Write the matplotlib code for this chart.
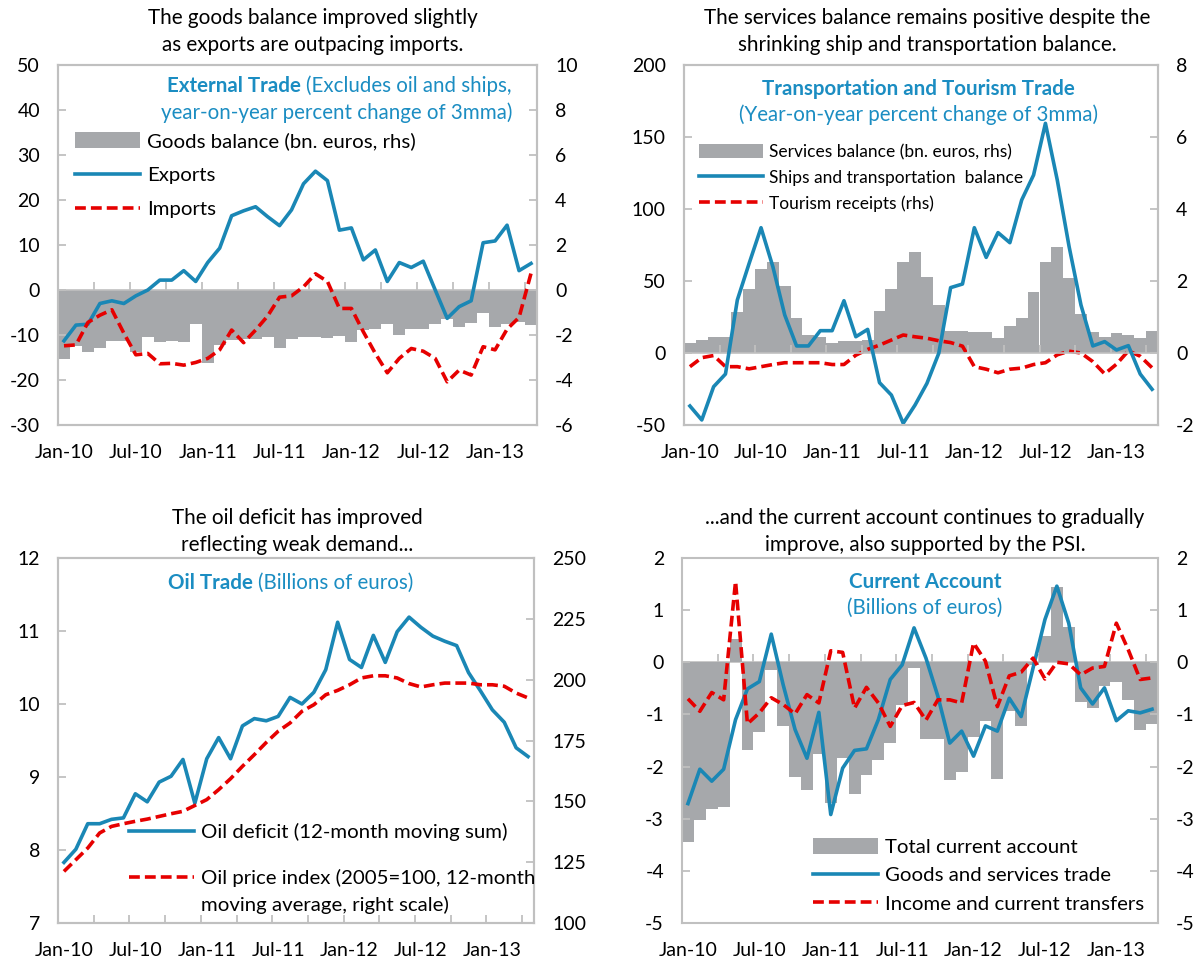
import numpy as np
import pandas as pd
import matplotlib
matplotlib.use("Agg")
import matplotlib.pyplot as plt
from matplotlib.patches import Patch
from matplotlib.lines import Line2D

plt.rcParams['font.family'] = ['Lato', 'DejaVu Sans']
plt.rcParams['axes.unicode_minus'] = False

W, H = 1204, 966

BLUE = "#1a87b5"
TITLE_BLUE = "#1b8dc2"
RED = "#e60000"
GREY = "#a6a8ab"
FRAME = "#c0c0c0"
DASH = (0, (3.0, 1.4))

HEAD_FS = 14.9
TICK_FS = 14
LEG_FS = 14.7
TITLE_FS = 14.8

months = pd.date_range("2010-01-01", periods=40, freq="MS")
month_labels = [d.strftime("%b-%y") for d in months]

# External trade (yoy % change of 3mma) and goods balance (bn euros)
exports = [-11.3, -7.8, -7.6, -3.0, -2.4, -3.0, -1.3, 0.0, 2.2, 2.2,
           4.3, 1.9, 6.1, 9.3, 16.5, 17.6, 18.5, 16.3, 14.3, 17.8,
           23.6, 26.4, 24.3, 13.3, 13.8, 6.7, 8.9, 1.9, 6.1, 5.0,
           6.4, 0.0, -6.3, -3.7, -2.4, 10.5, 10.9, 14.4, 4.3, 5.9]
imports = [-12.4, -12.2, -7.2, -5.6, -4.4, -9.6, -14.4, -14.1, -16.4, -16.3,
           -16.7, -16.1, -15.2, -13.3, -8.9, -11.7, -8.9, -5.8, -1.6, -1.3,
           0.7, 3.6, 1.9, -4.1, -4.1, -9.3, -14.1, -18.4, -15.2, -13.0,
           -13.6, -15.2, -20.4, -17.8, -18.9, -12.6, -13.3, -8.7, -6.1, 3.7]
goods_balance = [-3.07, -2.49, -2.74, -2.56, -2.27, -2.27, -2.74, -2.07, -2.32, -2.25,
                 -2.32, -1.51, -3.23, -2.43, -2.22, -2.19, -2.19, -2.08, -2.58, -2.16,
                 -2.09, -2.09, -2.13, -2.04, -2.31, -1.79, -1.72, -1.50, -2.00, -1.75,
                 -1.72, -1.50, -1.30, -1.64, -1.45, -1.01, -1.64, -1.50, -1.42, -1.57]

# Transportation and tourism
ships = [-36.8, -46.5, -23.4, -14.6, 36.8, 62.3, 87.0, 59.9, 26.4, 4.9,
         4.9, 15.5, 15.5, 36.3, 11.3, 16.4, -20.6, -29.2, -48.8, -36.1,
         -21.1, -0.2, 45.4, 47.9, 87.0, 66.4, 83.6, 76.6, 106.3, 123.6,
         159.5, 120.1, 73.8, 33.3, 4.9, 7.9, 2.1, 5.1, -14.6, -25.2]
tourism = [-0.38, -0.13, -0.07, -0.38, -0.38, -0.44, -0.38, -0.32, -0.27, -0.27,
           -0.27, -0.27, -0.32, -0.32, -0.06, 0.10, 0.22, 0.36, 0.50, 0.45,
           0.41, 0.34, 0.29, 0.19, -0.38, -0.45, -0.55, -0.45, -0.42, -0.32,
           -0.27, -0.05, 0.05, 0.0, -0.24, -0.58, -0.31, 0.06, -0.09, -0.41]
services = [0.29, 0.36, 0.45, 0.45, 1.13, 1.77, 2.33, 2.54, 1.86, 0.98,
            0.50, 0.45, 0.29, 0.33, 0.33, 0.36, 1.18, 1.77, 2.54, 2.80,
            2.12, 1.33, 0.62, 0.62, 0.57, 0.57, 0.41, 0.76, 0.98, 1.70,
            2.54, 2.95, 2.07, 1.08, 0.57, 0.45, 0.55, 0.50, 0.41, 0.60]

# Oil trade
oil_deficit = [7.83, 8.01, 8.36, 8.36, 8.42, 8.44, 8.77, 8.66, 8.93, 9.01,
               9.24, 8.64, 9.25, 9.54, 9.25, 9.70, 9.80, 9.77, 9.83, 10.09,
               10.00, 10.16, 10.47, 11.12, 10.61, 10.50, 10.94, 10.57, 10.99, 11.19,
               11.05, 10.93, 10.86, 10.80, 10.43, 10.18, 9.92, 9.75, 9.40, 9.28]
oil_price = [121.2, 126.0, 130.8, 137.0, 139.7, 140.8, 141.8, 142.7, 143.8, 144.9,
             145.9, 148.3, 150.7, 154.8, 159.3, 164.4, 169.2, 174.2, 178.8, 182.2,
             187.0, 189.7, 193.8, 195.6, 197.9, 200.7, 201.6, 201.6, 200.7, 198.4,
             197.0, 197.9, 198.6, 198.6, 198.6, 197.9, 197.9, 197.3, 194.5, 192.5]

# Current account
current_account = [-3.45, -3.03, -2.81, -2.78, 0.45, -1.69, -1.33, -0.14, -1.22, -2.20,
                   -2.44, -1.76, -2.70, -1.84, -2.52, -2.16, -1.87, -1.55, -0.81, -0.11,
                   -1.47, -1.47, -2.25, -2.10, -1.43, -1.12, -2.23, -0.94, -1.22, -0.05,
                   0.50, 1.44, 0.68, -0.76, -0.88, -0.45, -0.37, -0.73, -1.29, -1.18]
goods_services = [-2.71, -2.05, -2.28, -2.05, -1.10, -0.51, -0.37, 0.54, -0.43, -1.29,
                  -1.84, -0.96, -2.92, -2.03, -1.69, -1.66, -1.10, -0.33, -0.05, 0.66,
                  0.08, -0.65, -1.55, -1.32, -1.80, -1.22, -1.32, -0.69, -1.04, -0.11,
                  0.82, 1.46, 0.75, -0.49, -0.80, -0.49, -1.12, -0.93, -0.97, -0.90]
income = [-0.70, -0.94, -0.58, -0.72, 1.55, -1.18, -0.97, -0.68, -0.81, -0.99,
          -0.62, -0.78, 0.22, 0.19, -0.88, -0.48, -0.78, -1.23, -0.83, -0.77,
          -1.11, -0.72, -0.72, -0.78, 0.37, 0.02, -0.85, -0.26, -0.19, 0.08,
          -0.32, 0.0, -0.03, -0.24, -0.11, -0.08, 0.75, 0.24, -0.33, -0.30]

x = np.arange(len(months))
label_pos = np.arange(0, len(months), 6)
mark_pos = np.arange(2.5, len(months), 3)


def fpos(px, py):
	return px / W, 1 - py / H


def add_axes(left, top, right, bottom):
	return fig.add_axes([left / W, 1 - bottom / H, (right - left) / W, (bottom - top) / H])


def frame(ax):
	for s in ax.spines.values():
		s.set_color(FRAME)
		s.set_linewidth(1.5)


def style_y(ax, lim, ticks, side):
	ax.set_ylim(lim)
	ax.set_yticks(ticks)
	ax.set_yticklabels([f"{t:g}" for t in ticks])
	ax.tick_params(axis='y', direction='in', length=6, width=1.3, color=FRAME,
				   labelsize=TICK_FS, pad=13, left=(side == 'left'), right=(side == 'right'),
				   labelleft=(side == 'left'), labelright=(side == 'right'))


def style_x(ax, zero_frac=None):
	ax.set_xlim(-0.5, len(months) - 0.5)
	ax.set_xticks(label_pos)
	ax.set_xticklabels([month_labels[i] for i in label_pos])
	ax.tick_params(axis='x', which='major', length=0, pad=14, labelsize=TICK_FS)
	if zero_frac is None:
		ax.set_xticks(mark_pos, minor=True)
		ax.tick_params(axis='x', which='minor', direction='in', length=6, width=1.3, color=FRAME)
	else:
		# axis line at zero with small upward marks every 3 months
		sec = ax.secondary_xaxis(zero_frac)
		sec.set_xticks(mark_pos)
		sec.set_xticklabels([])
		up = 'out' if zero_frac > 0.5 else 'in'
		sec.tick_params(direction=up, length=6, width=1.3, color=FRAME,
						labelbottom=False, labeltop=False)
		for s in sec.spines.values():
			s.set_color(FRAME)
			s.set_linewidth(1.2)


def heading(cx, y1, l1, l2):
	fig.text(*fpos(cx, y1), l1, ha='center', va='center', fontsize=HEAD_FS)
	fig.text(*fpos(cx, y1 + 27), l2, ha='center', va='center', fontsize=HEAD_FS)


def legend(ax, handles, labels, px, py, spacing, fs=LEG_FS, hl=3.2):
	bb = ax.get_position()
	lx = (px / W - bb.x0) / bb.width
	ly = (1 - py / H - bb.y0) / bb.height
	leg = ax.legend(handles, labels, loc='upper left', bbox_to_anchor=(lx, ly),
					frameon=False, fontsize=fs, handlelength=hl, handleheight=0.85,
					handletextpad=0.35, labelspacing=spacing, borderpad=0, borderaxespad=0)
	leg.set_zorder(20)
	return leg


fig = plt.figure(figsize=(W / 100, H / 100), dpi=100)

blue_line = Line2D([], [], color=BLUE, lw=2.6)
red_line = Line2D([], [], color=RED, lw=2.6, linestyle=DASH)
grey_patch = Patch(facecolor=GREY, edgecolor='none')
no_handle = Line2D([], [], color='none')

# ---- External trade
ax1 = add_axes(58, 65, 537, 425)
ax1r = ax1.twinx()
ax1.set_zorder(ax1r.get_zorder() + 1)
ax1.patch.set_visible(False)
ax1r.bar(x, goods_balance, width=1.0, color=GREY, edgecolor='none')
ax1.plot(x, exports, color=BLUE, lw=2.6)
ax1.plot(x, imports, color=RED, lw=2.6, linestyle=DASH)
style_y(ax1, (-30, 50), np.arange(-30, 51, 10), 'left')
style_y(ax1r, (-6, 10), np.arange(-6, 11, 2), 'right')
style_x(ax1, 30 / 80)
frame(ax1); frame(ax1r)
heading(313, 18, "The goods balance improved slightly", "as exports are outpacing imports.")
t = fig.text(*fpos(512, 86), "(Excludes oil and ships,", ha='right', va='center',
			 fontsize=TITLE_FS, color=TITLE_BLUE)
ax1.annotate("External Trade", xy=(0, 0), xycoords=t, xytext=(-4, 0), textcoords='offset points',
			 ha='right', va='bottom', fontsize=TITLE_FS, color=TITLE_BLUE, fontweight='bold',
			 annotation_clip=False)
fig.text(*fpos(512, 113), "year-on-year percent change of 3mma)", ha='right', va='center',
		 fontsize=TITLE_FS, color=TITLE_BLUE)
legend(ax1, [grey_patch, blue_line, red_line],
	   ["Goods balance (bn. euros, rhs)", "Exports", "Imports"], 75, 132, 0.78)

# ---- Transportation and tourism
ax2 = add_axes(684, 65, 1158, 425)
ax2r = ax2.twinx()
ax2.set_zorder(ax2r.get_zorder() + 1)
ax2.patch.set_visible(False)
ax2r.bar(x, services, width=1.0, color=GREY, edgecolor='none')
ax2r.plot(x, tourism, color=RED, lw=2.6, linestyle=DASH)
ax2.plot(x, ships, color=BLUE, lw=2.6)
style_y(ax2, (-50, 200), np.arange(-50, 201, 50), 'left')
style_y(ax2r, (-2, 8), np.arange(-2, 9, 2), 'right')
style_x(ax2, 50 / 250)
frame(ax2); frame(ax2r)
heading(927, 18, "The services balance remains positive despite the",
		"shrinking ship and transportation balance.")
fig.text(*fpos(918, 89), "Transportation and Tourism Trade", ha='center', va='center',
		 fontsize=TITLE_FS, color=TITLE_BLUE, fontweight='bold')
fig.text(*fpos(918, 115), "(Year-on-year percent change of 3mma)", ha='center', va='center',
		 fontsize=TITLE_FS, color=TITLE_BLUE)
legend(ax2, [grey_patch, blue_line, red_line],
	   ["Services balance (bn. euros, rhs)", "Ships and transportation  balance", "Tourism receipts (rhs)"],
	   699, 144, 0.55, fs=12.5, hl=3.7)

# ---- Oil trade
ax3 = add_axes(58, 558, 534, 923)
ax3r = ax3.twinx()
ax3.plot(x, oil_deficit, color=BLUE, lw=2.6)
ax3r.plot(x, oil_price, color=RED, lw=2.6, linestyle=DASH)
style_y(ax3, (7, 12), np.arange(7, 13, 1), 'left')
style_y(ax3r, (100, 250), np.arange(100, 251, 25), 'right')
style_x(ax3)
frame(ax3); frame(ax3r)
heading(297, 518, "The oil deficit has improved", "reflecting weak demand...")
t = fig.text(*fpos(258, 583), "(Billions of euros)", ha='left', va='center',
			 fontsize=TITLE_FS, color=TITLE_BLUE)
ax3.annotate("Oil Trade", xy=(0, 0), xycoords=t, xytext=(-4, 0), textcoords='offset points',
			 ha='right', va='bottom', fontsize=TITLE_FS, color=TITLE_BLUE, fontweight='bold',
			 annotation_clip=False)
leg_a = legend(ax3r, [blue_line], ["Oil deficit (12-month moving sum)"], 129, 823, 0.4)
ax3r.add_artist(leg_a)
legend(ax3r, [red_line, no_handle],
	   ["Oil price index (2005=100, 12-month", "moving average, right scale)"], 129, 869, 0.4)

# ---- Current account
ax4 = add_axes(682, 558, 1158, 923)
ax4.bar(x, current_account, width=1.0, color=GREY, edgecolor='none')
ax4.plot(x, goods_services, color=BLUE, lw=2.6)
ax4.plot(x, income, color=RED, lw=2.6, linestyle=DASH)
ax4.set_ylim(-5, 2)
ax4.set_yticks(np.arange(-5, 3, 1))
ax4.set_yticklabels([f"{t:g}" for t in np.arange(-5, 3, 1)])
ax4.tick_params(axis='y', direction='in', length=6, width=1.3, color=FRAME, labelsize=TICK_FS,
				pad=13, left=True, right=True, labelleft=True, labelright=True)
style_x(ax4, 5 / 7)
frame(ax4)
heading(925, 518, "...and the current account continues to gradually",
		"improve, also supported by the PSI.")
fig.text(*fpos(925, 582), "Current Account", ha='center', va='center',
		 fontsize=TITLE_FS, color=TITLE_BLUE, fontweight='bold')
fig.text(*fpos(925, 608), "(Billions of euros)", ha='center', va='center',
		 fontsize=TITLE_FS, color=TITLE_BLUE)
legend(ax4, [grey_patch, blue_line, red_line],
	   ["Total current account", "Goods and services trade", "Income and current transfers"],
	   813, 838, 0.49)

plt.savefig("out.png", dpi=100)
